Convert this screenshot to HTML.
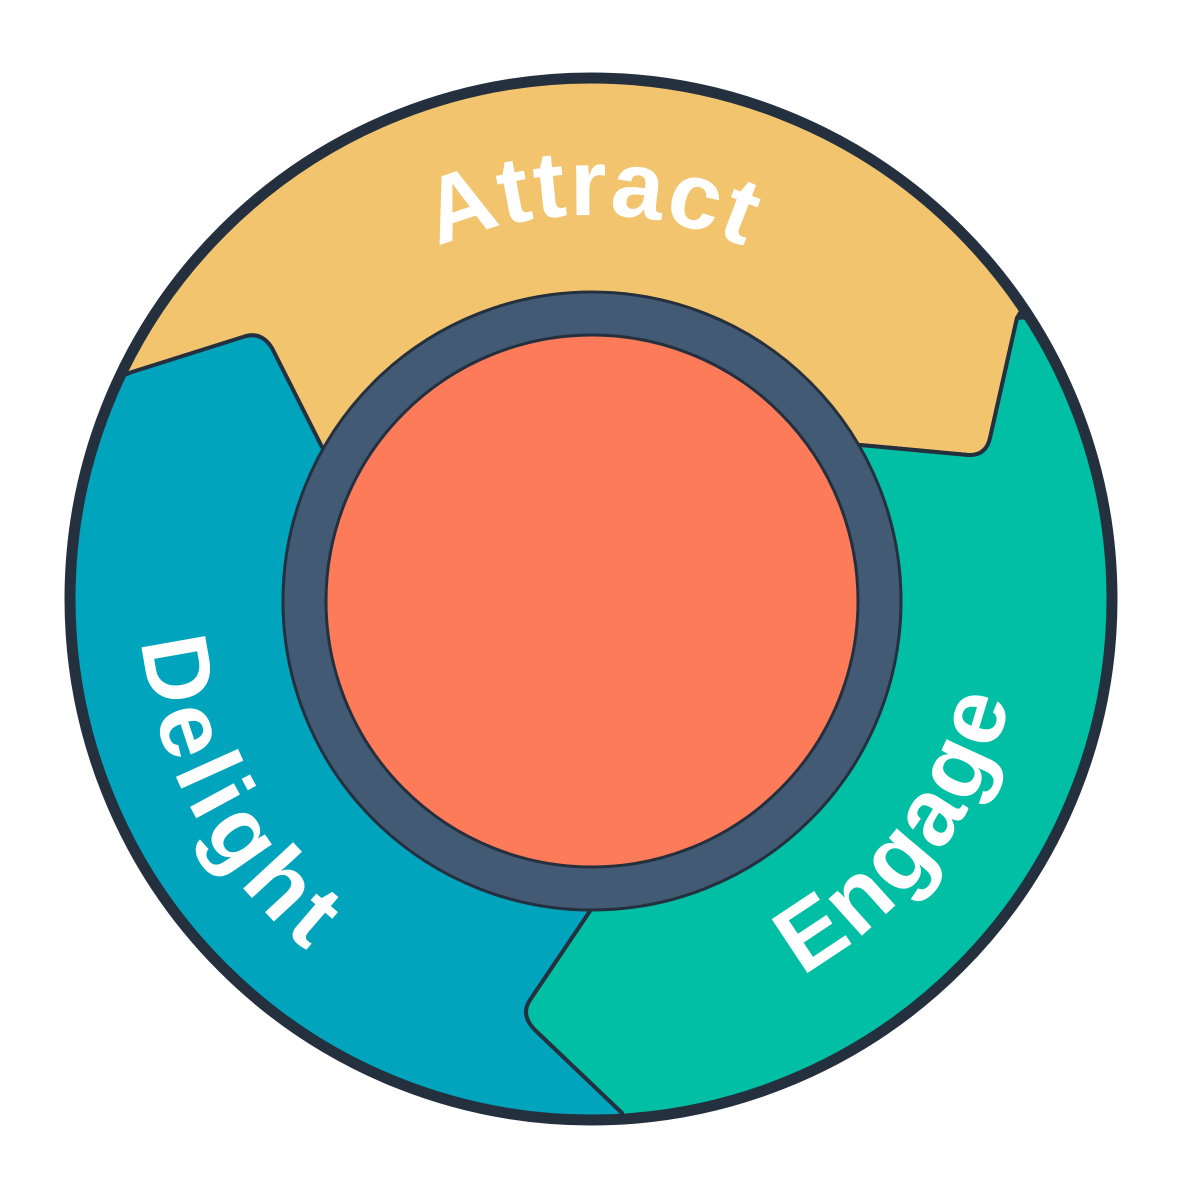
<!DOCTYPE html>
<html><head><style>html,body{margin:0;padding:0;background:#fff}svg{display:block}</style></head>
<body>
<svg width="1200" height="1200" viewBox="0 0 1200 1200" xmlns="http://www.w3.org/2000/svg">
<defs>
<clipPath id="c"><circle cx="591" cy="599" r="521"/></clipPath>
<path id="pA" d="M258.6,407.5 A385,385 0 0 1 925.4,407.5"/>
<path id="pD" d="M171.5,434.3 A452,452 0 0 0 501.9,1042.9"/>
<path id="pE" d="M614.5,1029.4 A430,430 0 0 0 1011,503.3"/>
</defs>
<circle cx="591" cy="599" r="521" fill="#00a4bd"/>
<g clip-path="url(#c)" stroke="#25303f" stroke-width="4" stroke-linejoin="round">
<path d="M0,0 L0,420 L132,372 L246,336 Q262,332 272,348 L322,447 L592,600 L860,445 L968,455 Q986,456 990,438 L1017,318 L1200,0 Z" fill="#f2c46e"/>
<path d="M860,445 L968,455 Q986,456 990,438 L1017,318 L1250,300 L1250,1250 L660,1250 L622,1113 L535,1030 Q520,1015 530,1000 L590,911 L592,600 Z" fill="#00bfa5"/>
</g>
<circle cx="592" cy="601" r="309" fill="#435a75" stroke="#25303f" stroke-width="3"/>
<circle cx="592" cy="601" r="266" fill="#fe7b5a" stroke="#25303f" stroke-width="3"/>
<circle cx="591" cy="599" r="521" fill="none" stroke="#25303f" stroke-width="11"/>
<g font-family="Liberation Sans, sans-serif" font-weight="bold" font-size="94" fill="#fff">
<text letter-spacing="2"><textPath href="#pA" startOffset="50%" text-anchor="middle">Attract</textPath></text>
<text letter-spacing="7"><textPath href="#pD" startOffset="50%" text-anchor="middle">Delight</textPath></text>
<text letter-spacing="3"><textPath href="#pE" startOffset="50%" text-anchor="middle">Engage</textPath></text>
</g>
</svg>
</body></html>
